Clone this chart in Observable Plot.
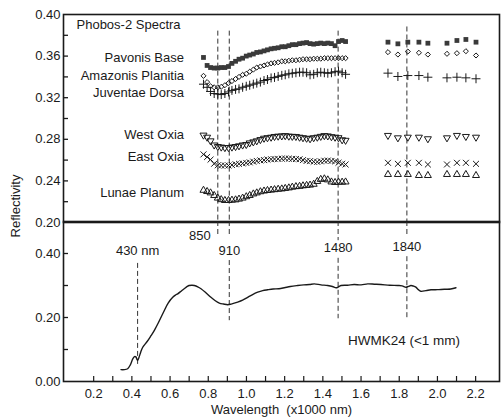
<!DOCTYPE html>
<html><head><meta charset="utf-8">
<script src="https://cdn.jsdelivr.net/npm/d3@7"></script>
<script src="https://cdn.jsdelivr.net/npm/@observablehq/plot@0.6"></script>
<style>
html,body{margin:0;padding:0;background:#fff;}
#wrap{position:relative;width:502px;height:417px;font-family:"Liberation Sans",Arial,sans-serif;}
#wrap svg{position:absolute;left:0;top:0;background:transparent;overflow:visible;}
#ylab{position:absolute;left:15px;top:206px;transform:translate(-50%,-50%) rotate(-90deg);font-size:13px;color:#1a1a1a;white-space:nowrap;}
</style></head><body>
<div id="wrap"><div id="ylab">Reflectivity</div></div>
<script>
// ---------- data ----------
const seriesNames = ["Pavonis Base","Amazonis Planitia","Juventae Dorsa","West Oxia","East Oxia","Lunae Planum"];
const labelAt = [0.3587,0.3413,0.325,0.2846,0.2635,0.2288];
const wlMain = [0.775,0.794,0.812,0.831,0.850,0.868,0.887,0.906,0.924,0.943,
  0.961,0.980,0.999,1.017,1.036,1.054,1.073,1.092,1.110,1.129,
  1.147,1.166,1.185,1.203,1.222,1.240,1.259,1.278,1.296,1.315,
  1.333,1.352,1.371,1.389,1.408,1.426,1.445,1.464,1.482,1.501,
  1.519];
const wlRight = [1.741,1.793,1.845,1.903,1.950,2.050,2.102,2.149,2.202];
const pavonis = [0.3587,0.351,0.349,0.3485,0.3485,0.349,0.349,0.350,0.353,0.355,
  0.357,0.358,0.360,0.361,0.362,0.3635,0.364,0.365,0.366,0.367,
  0.3675,0.368,0.369,0.369,0.370,0.371,0.371,0.372,0.3725,0.373,
  0.372,0.3715,0.372,0.3725,0.372,0.3725,0.372,0.370,0.374,0.375,
  0.374];
const amazonis = [0.341,0.335,0.331,0.330,0.330,0.3305,0.332,0.334,0.336,0.338,
  0.340,0.342,0.343,0.345,0.347,0.349,0.350,0.351,0.352,0.353,
  0.3535,0.354,0.355,0.355,0.3555,0.356,0.356,0.3565,0.357,0.357,
  0.357,0.3575,0.3575,0.3575,0.358,0.358,0.358,0.358,0.358,0.358,
  0.358];
const juventae = [0.333,0.330,0.326,0.324,0.3235,0.323,0.324,0.3255,0.327,0.328,
  0.3285,0.330,0.331,0.332,0.333,0.334,0.335,0.3365,0.3375,0.339,
  0.3395,0.3405,0.3415,0.342,0.343,0.3435,0.344,0.3445,0.3445,0.344,
  0.342,0.3425,0.344,0.3445,0.344,0.3435,0.344,0.345,0.3455,0.344,
  0.3425];
const westOxia = [0.284,0.282,0.2785,0.2745,0.273,0.2725,0.272,0.272,0.2725,0.273,
  0.2737,0.2745,0.275,0.2765,0.2775,0.2785,0.2797,0.281,0.2815,0.282,
  0.2827,0.283,0.2832,0.2835,0.283,0.2828,0.2827,0.282,0.2815,0.281,
  0.2805,0.2815,0.282,0.2828,0.2835,0.2832,0.2825,0.282,0.2815,0.2795,
  0.279];
const eastOxia = [0.2655,0.263,0.2605,0.2565,0.255,0.2548,0.2548,0.2548,0.2553,0.256,
  0.2564,0.2568,0.2573,0.2578,0.2585,0.2592,0.2597,0.260,0.2605,0.2608,
  0.261,0.2612,0.2614,0.2615,0.2614,0.2612,0.261,0.2608,0.260,0.2592,
  0.259,0.2585,0.2583,0.2588,0.2594,0.2596,0.2592,0.2588,0.2575,0.2565,
  0.2558];
const lunae = [0.231,0.2298,0.2285,0.226,0.2235,0.222,0.2212,0.2212,0.2215,0.2218,
  0.2225,0.2235,0.2248,0.226,0.2275,0.2285,0.2296,0.2303,0.2308,0.2312,
  0.2316,0.232,0.2323,0.2328,0.2333,0.234,0.2345,0.2348,0.2353,0.2357,
  0.236,0.2368,0.2395,0.2415,0.242,0.241,0.239,0.2385,0.2388,0.2388,
  0.239];
const pavonisRight = [0.3734,0.3718,0.3734,0.3734,0.3724,0.3724,0.375,0.376,0.3734];
const amazonisRight = [0.3638,0.3615,0.3644,0.3632,0.3615,0.3622,0.3628,0.3647,0.3606];
const juventaeRight = [0.3436,0.3404,0.3413,0.3413,0.3397,0.3391,0.3397,0.3391,0.3382];
const westOxiaRight = [0.2837,0.2814,0.282,0.282,0.2805,0.2814,0.2837,0.2827,0.282];
const eastOxiaRight = [0.2574,0.2564,0.2574,0.2574,0.2558,0.2558,0.2574,0.2574,0.2564];
const lunaeRight = [0.2462,0.2462,0.2462,0.2452,0.2452,0.2462,0.2462,0.2462,0.2452];

const hwWl = [0.343,0.36,0.378,0.392,0.404,0.414,0.421,0.426,0.430,0.437,
  0.447,0.457,0.48,0.50,0.517,0.54,0.57,0.59,0.614,0.628,
  0.640,0.655,0.674,0.69,0.700,0.715,0.727,0.745,0.762,0.79,
  0.814,0.835,0.858,0.88,0.902,0.92,0.954,0.98,1.006,1.03,
  1.059,1.085,1.111,1.14,1.17,1.198,1.23,1.268,1.30,1.33,
  1.355,1.39,1.425,1.45,1.469,1.48,1.495,1.53,1.564,1.60,
  1.635,1.67,1.704,1.75,1.792,1.815,1.835,1.848,1.861,1.875,
  1.887,1.90,1.913,1.94,1.966,2.00,2.036,2.07,2.097];
const hwR = [0.037,0.037,0.040,0.052,0.070,0.078,0.077,0.070,0.066,0.075,
  0.093,0.107,0.125,0.143,0.159,0.185,0.222,0.245,0.263,0.270,
  0.274,0.281,0.290,0.297,0.300,0.301,0.300,0.296,0.290,0.276,
  0.263,0.253,0.245,0.242,0.240,0.242,0.248,0.254,0.263,0.271,
  0.279,0.284,0.2866,0.289,0.290,0.293,0.297,0.300,0.302,0.303,
  0.305,0.302,0.300,0.297,0.293,0.295,0.300,0.301,0.303,0.302,
  0.305,0.304,0.303,0.301,0.300,0.299,0.2947,0.297,0.300,0.298,
  0.2947,0.287,0.282,0.284,0.2866,0.287,0.2884,0.289,0.293];

// band markers (µm) and their labels
const bandWl = [0.85,0.91,1.48,1.84];
const bandTopStart = [0.384,0.384,0.384,0.388];
// dashed segments in lower panel: [wavelength, from, to]
const lowerDash = [[0.43,0.369,0.044],[0.85,0.5,0.45],[0.91,0.5,0.45],[0.91,0.378,0.19],
  [1.48,0.5,0.44],[1.48,0.385,0.196],[1.84,0.5,0.45],[1.84,0.39,0.196]];
const bandLabels = ["430 nm","910","1480","1840"];
const bandLabelWl = [0.43,0.91,1.48,1.84];
const bandLabelAt = [0.409,0.409,0.419,0.422];

const topYLabels = [0.20,0.24,0.28,0.32,0.36,0.40];
const topYTicks = [0.22,0.24,0.26,0.28,0.30,0.32,0.34,0.36,0.38];
const botYLabels = [0.00,0.20,0.40];
const botYTicks = [0.10,0.20,0.30,0.40];
const xLabels = [0.2,0.4,0.6,0.8,1.0,1.2,1.4,1.6,1.8,2.0,2.2];
const xTicks = [0.2,0.3,0.4,0.5,0.6,0.7,0.8,0.9,1.0,1.1,1.2,1.3,1.4,1.5,1.6,1.7,1.8,1.9,2.0,2.1,2.2];

// ---------- build ----------
const ink = "#1a1a1a";
const W = 502, H = 417, L = 63, R = 3;
const innerW = W - L - R;
const xDomain = [0.042, 2.325];
const styleBase = {background:"transparent", fontFamily:'"Liberation Sans", Arial, sans-serif', fontSize:"13px", color:ink, overflow:"visible"};

const mains = [pavonis, amazonis, juventae, westOxia, eastOxia, lunae];
const rights = [pavonisRight, amazonisRight, juventaeRight, westOxiaRight, eastOxiaRight, lunaeRight];
const markers = [
  {symbol:"square", fill:"#3a3a3a", stroke:"none", r:2.7},
  {symbol:"diamond2", fill:"none", stroke:ink, r:2.3, strokeWidth:1},
  {symbol:"plus", fill:"none", stroke:ink, r:3, strokeWidth:1},
  {symbol:"triangle", rotate:180, fill:"none", stroke:ink, r:2.6, strokeWidth:1},
  {symbol:"times", fill:"none", stroke:ink, r:2.8, strokeWidth:1},
  {symbol:"triangle", fill:"none", stroke:ink, r:2.6, strokeWidth:1}
];
const dotMarks = [];
seriesNames.forEach((name, s) => {
  const rows = wlMain.map((w, i) => ({w, r: mains[s][i]}))
    .concat(wlRight.map((w, i) => ({w, r: rights[s][i]})));
  dotMarks.push(Plot.dot(rows, {x:"w", y:"r", ...markers[s]}));
});
const labelRows = seriesNames.map((n, i) => ({n, y: labelAt[i]}));

const topPlot = Plot.plot({
  width: W, height: H, marginLeft: L, marginRight: R, marginTop: 14, marginBottom: H - 222,
  style: styleBase,
  x: {domain: xDomain, axis: null},
  y: {domain: [0.20, 0.40]},
  marks: [
    Plot.ruleX(bandWl.map((w, i) => ({w, a: bandTopStart[i]})), {x:"w", y1:"a", y2:() => 0.20, stroke:"#333", strokeWidth:1, strokeDasharray:"5,3"}),
    ...dotMarks,
    Plot.tickY(topYTicks, {y: d => d, insetRight: innerW - 5, stroke: ink, strokeWidth: 1.3}),
    Plot.axisY({ticks: topYLabels, tickSize: 0, tickPadding: 3, tickFormat: d3.format(".2f"), label: null, fontSize: 13}),
    Plot.text(["Phobos-2 Spectra"], {frameAnchor: "top-left", dx: 13, dy: 5, lineAnchor: "top", textAnchor: "start", fontSize: 13, fill: ink}),
    Plot.text(labelRows, {x: () => 0.673, y: "y", text: "n", textAnchor: "end", fontSize: 13, fill: ink}),
    Plot.frame({stroke: ink, strokeWidth: 1.6})
  ]
});

const hwRows = hwWl.map((w, i) => ({w, r: hwR[i]}));
const dashRows = lowerDash.map(d => ({w: d[0], a: d[1], b: d[2]}));
const bandLabelRows = bandLabels.map((t, i) => ({t, w: bandLabelWl[i], y: bandLabelAt[i]}));

const botPlot = Plot.plot({
  width: W, height: H, marginLeft: L, marginRight: R, marginTop: 221, marginBottom: H - 381,
  style: styleBase,
  x: {domain: xDomain},
  y: {domain: [0, 0.5]},
  marks: [
    Plot.ruleX(dashRows, {x:"w", y1:"a", y2:"b", stroke:"#333", strokeWidth:1, strokeDasharray:"5,3"}),
    Plot.line(hwRows, {x:"w", y:"r", stroke: ink, strokeWidth: 1.4, curve: "catmull-rom"}),
    Plot.text(bandLabelRows, {x:"w", y:"y", text:"t", fontSize: 13, fill: ink}),
    Plot.text(["850"], {x: () => 0.85, y: () => 0.456, dx: -7, textAnchor: "end", fontSize: 13, fill: ink}),
    Plot.text(["HWMK24 (<1 mm)"], {x: () => 1.825, y: () => 0.128, fontSize: 13.5, fill: ink}),
    Plot.tickX(xTicks, {x: d => d, insetTop: (381 - 221) - 5, stroke: ink, strokeWidth: 1.2}),
    Plot.tickY(botYTicks, {y: d => d, insetRight: innerW - 5, stroke: ink, strokeWidth: 1.3}),
    Plot.axisY({ticks: botYLabels, tickSize: 0, tickPadding: 3, tickFormat: d3.format(".2f"), label: null, fontSize: 13}),
    Plot.axisX({ticks: xLabels, tickSize: 0, tickPadding: 7, tickFormat: d3.format(".1f"), label: null, fontSize: 13}),
    Plot.text(["Wavelength\u00A0\u00A0(x1000 nm)"], {frameAnchor: "bottom", dy: 28, lineAnchor: "middle", fontSize: 13, fill: ink}),
    Plot.frame({stroke: ink, strokeWidth: 1.6})
  ]
});

const wrap = document.getElementById("wrap");
wrap.appendChild(topPlot);
wrap.appendChild(botPlot);
</script>
</body></html>
